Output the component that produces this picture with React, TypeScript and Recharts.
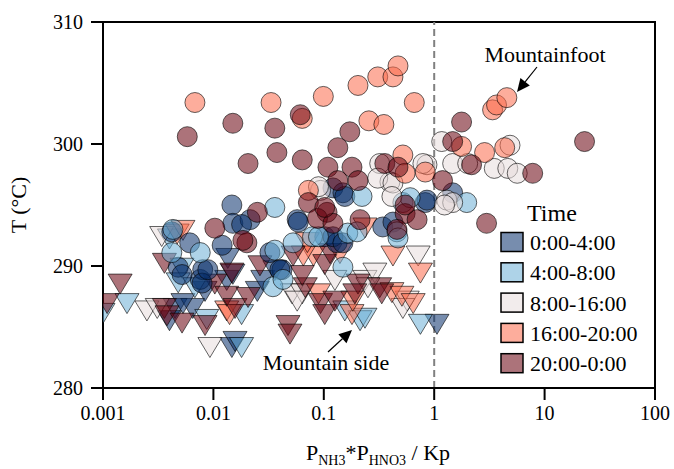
import React from "react";
import { ScatterChart, Scatter, XAxis, YAxis, ReferenceLine, ReferenceArea } from "recharts";

const FONT = "Liberation Serif";

const timeLabels = ["0:00-4:00", "4:00-8:00", "8:00-16:00", "16:00-20:00", "20:00-0:00"];
const timeColors = ["#08306b", "#6baed6", "#e8dcdc", "#fb6a4a", "#67000d"];

const xTicks = [0.001, 0.01, 0.1, 1, 10, 100];
const yTicks = [280, 290, 300, 310];

// Mountainfoot (circles): [Pnh3*Phno3/Kp, T]
const foot0to4 = [
  [0.0147, 295.0], [0.0061, 291.9], [0.0048, 289.9], [0.0076, 288.9], [0.008, 289.7],
  [0.012, 291.7], [0.015, 293.5], [0.0215, 293.8], [0.0325, 291.1], [0.0418, 289.7],
  [0.0574, 293.8], [0.102, 292.4], [0.342, 293.2], [0.018, 293.4], [0.04, 289.7],
  [0.0052, 289.3], [0.0079, 288.6], [0.0089, 289.7], [0.132, 291.9], [0.121, 292.4],
  [0.0587, 293.6], [0.121, 296.4], [0.149, 296.0], [0.155, 295.7], [0.83, 295.2],
  [0.423, 293.6], [1.47, 296.0], [0.86, 295.4], [0.0042, 292.8], [0.149, 291.9],
];
const foot4to8 = [
  [0.036, 294.8], [0.0043, 293.0], [0.0042, 291.1], [0.0076, 291.1], [0.036, 291.3],
  [0.0346, 288.3], [0.0427, 288.9], [0.0527, 291.9], [0.165, 292.7], [0.149, 289.9],
  [0.222, 295.7], [0.2, 292.8], [0.079, 292.4], [0.52, 295.2], [0.606, 295.6],
  [0.46, 292.8], [0.47, 292.3], [1.97, 295.2], [0.0895, 292.4],
];
const foot8to16 = [
  [0.0934, 296.2], [0.0895, 296.5], [0.321, 298.4], [0.397, 296.9], [0.308, 297.2],
  [0.423, 296.8], [0.86, 298.3], [0.79, 298.4], [1.17, 300.2], [1.47, 298.4],
  [3.5, 298.0], [4.64, 298.0], [5.65, 297.6], [4.86, 299.9], [1.3, 295.4],
  [1.47, 295.2], [0.414, 295.7], [2.01, 298.4], [1.24, 295.0],
];
const foot16to20 = [
  [0.0068, 303.4], [0.0333, 303.4], [0.099, 303.9], [0.204, 304.8], [0.308, 305.5],
  [0.423, 305.5], [0.47, 306.4], [0.66, 303.4], [0.256, 301.9], [0.35, 301.6],
  [0.52, 299.1], [0.0725, 296.2], [0.83, 297.7], [0.545, 297.6], [3.38, 302.8],
  [3.67, 303.2], [4.55, 303.8], [1.77, 299.8], [2.86, 299.3], [4.35, 299.7],
  [0.0638, 302.1],
];
const foot20to0 = [
  [0.0058, 300.6], [0.015, 301.7], [0.036, 301.3], [0.0376, 299.3], [0.0206, 298.4],
  [0.0612, 302.4], [0.172, 301.0], [0.134, 299.7], [0.109, 298.1], [0.18, 298.1],
  [0.357, 298.4], [0.0638, 298.7], [0.47, 298.1], [1.77, 301.8], [1.47, 300.2],
  [7.8, 297.6], [1.19, 297.0], [23, 300.2], [0.134, 297.0], [0.204, 297.0],
  [0.0725, 295.2], [0.107, 294.4], [0.0876, 293.9], [0.121, 293.5], [0.213, 293.8],
  [0.545, 294.3], [0.7, 293.8], [0.46, 293.0], [2.98, 293.5], [0.025, 294.4],
  [0.0103, 293.1], [0.0201, 291.9], [0.0185, 292.1], [0.102, 294.8], [2.18, 298.3],
  [0.545, 295.0],
];

// Mountain side (triangles)
const side0to4 = [
  [0.0045, 286.6], [0.004, 285.6], [0.0065, 286.6], [0.0084, 288.0], [0.0135, 290.7],
  [0.0132, 288.9], [0.0147, 283.4], [0.0157, 283.9], [0.025, 288.0], [0.028, 288.9],
  [0.015, 289.4], [1.06, 285.3], [0.0053, 287.0], [0.036, 289.7],
];
const side4to8 = [
  [0.00165, 287.0], [0.001, 286.2], [0.0052, 289.9], [0.0048, 288.7], [0.0068, 288.3],
  [0.018, 286.1], [0.018, 283.4], [0.213, 285.6], [0.236, 285.8], [0.75, 285.3],
  [0.0087, 285.7], [0.004, 292.3], [0.155, 286.4],
];
const side8to16 = [
  [0.0025, 286.4], [0.0031, 286.6], [0.0034, 292.5], [0.0093, 283.4], [0.0516, 287.8],
  [0.0638, 287.8], [0.0574, 287.2], [0.126, 288.9], [0.236, 288.9], [0.29, 289.5],
  [0.251, 288.3], [0.57, 287.2], [0.52, 286.6], [0.716, 290.9],
];
const side16to20 = [
  [0.0047, 292.7], [0.0053, 293.0], [0.0132, 286.4], [0.014, 286.1], [0.0895, 287.8],
  [0.18, 286.1], [0.183, 287.2], [0.0806, 290.9], [0.0652, 290.9], [0.14, 291.1],
  [0.236, 293.2], [0.423, 290.9], [0.75, 289.5], [0.414, 287.9], [0.51, 287.6],
  [0.645, 287.0], [0.071, 292.0],
];
const side20to0 = [
  [0.00143, 288.6], [0.00109, 287.0], [0.0036, 286.6], [0.0038, 286.0], [0.0052, 285.4],
  [0.0084, 285.2], [0.0036, 290.3], [0.0103, 288.6], [0.0132, 287.6], [0.0147, 289.5],
  [0.0157, 286.6], [0.0206, 287.5], [0.0474, 285.2], [0.0494, 284.5], [0.068, 288.3],
  [0.0934, 287.0], [0.102, 286.1], [0.126, 287.2], [0.0638, 289.3], [0.0527, 290.9],
  [0.102, 290.2], [0.0264, 290.1], [0.204, 288.6], [0.321, 288.3], [0.335, 287.8],
  [0.191, 287.8], [0.114, 291.1],
];

const footSeries = [foot0to4, foot4to8, foot8to16, foot16to20, foot20to0];
const sideSeries = [side0to4, side4to8, side8to16, side16to20, side20to0];

const toPoints = (arr: number[][]) => arr.map(([x, y]) => ({ x, y }));

const circleShape = (color: string) => (p: any) => (
  <circle cx={p.cx} cy={p.cy} r={10} fill={color} fillOpacity={0.55} stroke="#000" strokeOpacity={0.6} strokeWidth={1} />
);

const triangleShape = (color: string) => (p: any) => (
  <polygon
    points={`${p.cx - 12},${p.cy - 9} ${p.cx + 12},${p.cy - 9} ${p.cx},${p.cy + 11}`}
    fill={color}
    fillOpacity={0.55}
    stroke="#000"
    strokeOpacity={0.6}
    strokeWidth={1}
  />
);

// arrow with filled head, tip at (x2, y2)
const Arrow = ({ x1, y1, x2, y2 }: { x1: number; y1: number; x2: number; y2: number }) => {
  const dx = x2 - x1;
  const dy = y2 - y1;
  const len = Math.hypot(dx, dy);
  const ux = dx / len;
  const uy = dy / len;
  const bx = x2 - ux * 13;
  const by = y2 - uy * 13;
  return (
    <g>
      <line x1={x1} y1={y1} x2={bx} y2={by} stroke="#000" strokeWidth={1.2} />
      <polygon points={`${x2},${y2} ${bx - uy * 6},${by + ux * 6} ${bx + uy * 6},${by - ux * 6}`} fill="#000" />
    </g>
  );
};

const App = () => {
  return (
    <div style={{ position: "relative", width: 674, height: 469, background: "#fff" }}>
      <style>{"body{margin:0}"}</style>
      <ScatterChart width={674} height={469} margin={{ top: 22, right: 19, bottom: 0, left: 0 }}>
        <XAxis
          dataKey="x"
          type="number"
          scale="log"
          domain={[0.001, 100]}
          ticks={xTicks}
          allowDataOverflow
          height={81}
          tickSize={12}
          tickMargin={6}
          tickFormatter={(v) => String(v)}
          axisLine={{ stroke: "#000", strokeWidth: 2 }}
          tickLine={{ stroke: "#000", strokeWidth: 2 }}
          tick={{ fill: "#000", fontSize: 20, fontFamily: FONT }}
        />
        <YAxis
          dataKey="y"
          type="number"
          domain={[280, 310]}
          ticks={yTicks}
          allowDataOverflow
          width={103}
          tickSize={12}
          tickMargin={8}
          axisLine={{ stroke: "#000", strokeWidth: 2 }}
          tickLine={{ stroke: "#000", strokeWidth: 2 }}
          tick={{ fill: "#000", fontSize: 20, fontFamily: FONT }}
        />
        <ReferenceArea x1={0.001} x2={100} y1={280} y2={310} fill="none" stroke="#000" strokeWidth={2} />
        <ReferenceLine x={1} stroke="#808080" strokeWidth={2} strokeDasharray="7 4" />
        {sideSeries.map((s, i) => (
          <Scatter key={"side" + i} data={toPoints(s)} shape={triangleShape(timeColors[i])} isAnimationActive={false} />
        ))}
        {footSeries.map((s, i) => (
          <Scatter key={"foot" + i} data={toPoints(s)} shape={circleShape(timeColors[i])} isAnimationActive={false} />
        ))}
      </ScatterChart>

      <svg width={674} height={469} style={{ position: "absolute", left: 0, top: 0, pointerEvents: "none" }} fontFamily={FONT}>
        {/* axis titles */}
        <text x={0} y={0} transform="translate(26,205) rotate(-90)" textAnchor="middle" fontSize={22}>
          T (°C)
        </text>
        <text x={378} y={460} textAnchor="middle" fontSize={22}>
          P<tspan fontSize={14} dy={5}>NH3</tspan>
          <tspan dy={-5}>*P</tspan>
          <tspan fontSize={14} dy={5}>HNO3</tspan>
          <tspan dy={-5}> / Kp</tspan>
        </text>

        {/* annotations */}
        <text x={545} y={62} textAnchor="middle" fontSize={22}>Mountainfoot</text>
        <Arrow x1={537} y1={67} x2={517} y2={92} />
        <text x={326} y={370} textAnchor="middle" fontSize={22}>Mountain side</text>
        <Arrow x1={328} y1={352} x2={352} y2={330} />

        {/* legend */}
        <text x={527} y={221} fontSize={24}>Time</text>
        {timeLabels.map((label, i) => {
          const cy = 242 + i * 30.3;
          return (
            <g key={label}>
              <rect x={501} y={cy - 9.5} width={22} height={19} fill={timeColors[i]} fillOpacity={0.55} />
              <rect x={501} y={cy - 9.5} width={22} height={19} fill="none" stroke="#000" strokeWidth={1.5} />
              <text x={530} y={cy + 8} fontSize={22}>{label}</text>
            </g>
          );
        })}
      </svg>
    </div>
  );
};

export default App;
